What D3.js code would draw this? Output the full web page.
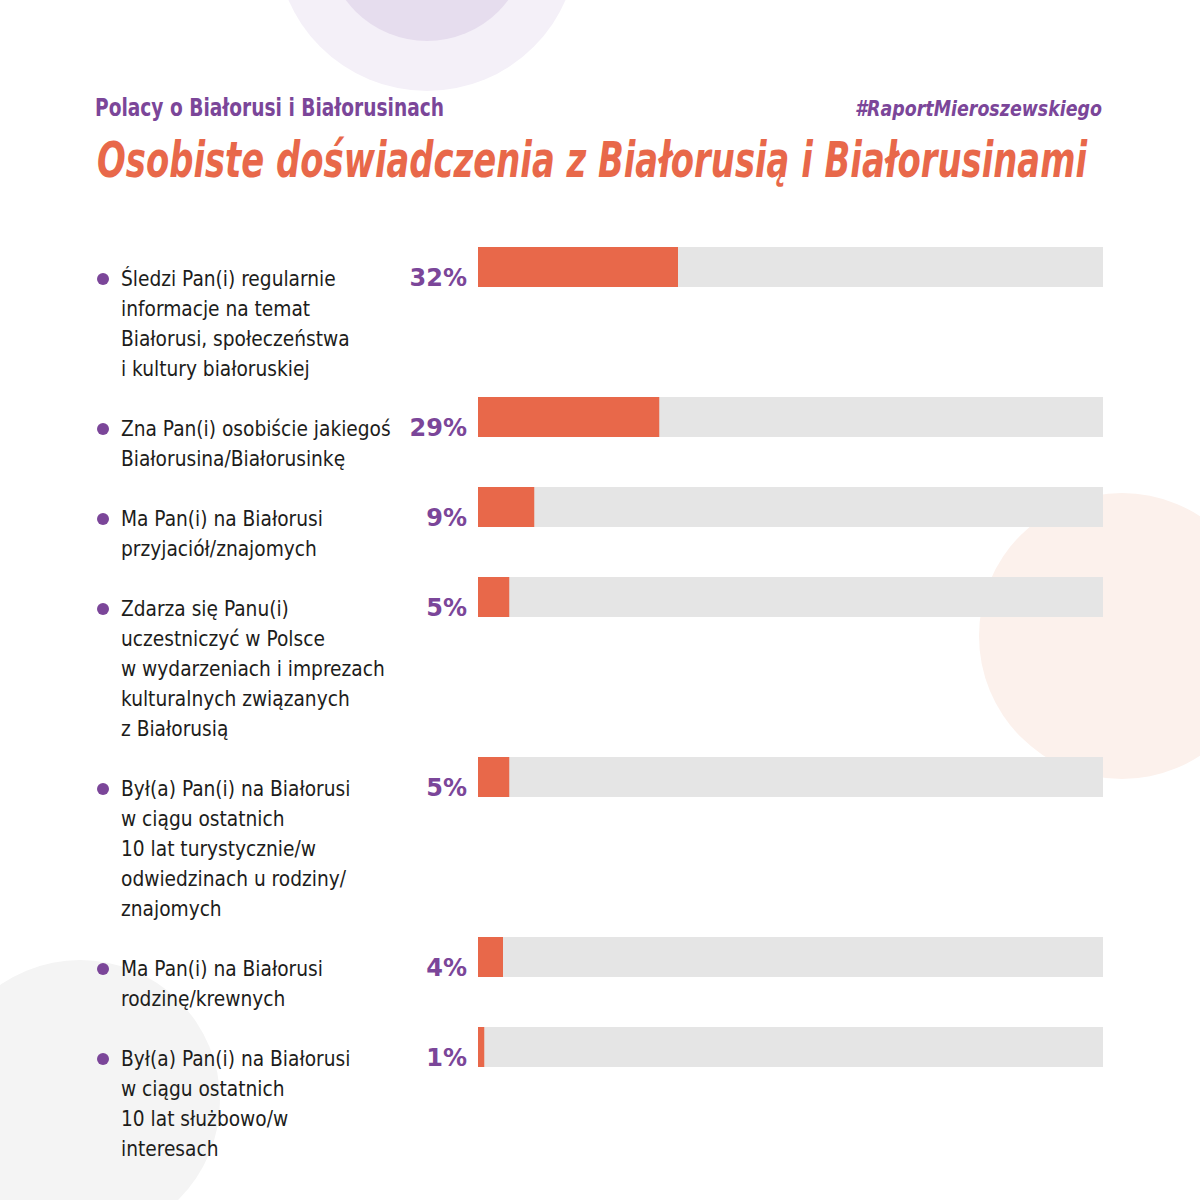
<!DOCTYPE html>
<html lang="pl">
<head>
<meta charset="UTF-8">
<title>Osobiste doświadczenia z Białorusią i Białorusinami</title>
<script src="https://d3js.org/d3.v7.min.js"></script>
<style>
  body { margin: 0; background: #fff; }
  svg { display: block; }
</style>
</head>
<body>
<svg id="chart"></svg>
<script>
// data
const categories = [
  ["Śledzi Pan(i) regularnie", "informacje na temat", "Białorusi, społeczeństwa", "i kultury białoruskiej"],
  ["Zna Pan(i) osobiście jakiegoś", "Białorusina/Białorusinkę"],
  ["Ma Pan(i) na Białorusi", "przyjaciół/znajomych"],
  ["Zdarza się Panu(i)", "uczestniczyć w Polsce", "w wydarzeniach i imprezach", "kulturalnych związanych", "z Białorusią"],
  ["Był(a) Pan(i) na Białorusi", "w ciągu ostatnich", "10 lat turystycznie/w", "odwiedzinach u rodziny/", "znajomych"],
  ["Ma Pan(i) na Białorusi", "rodzinę/krewnych"],
  ["Był(a) Pan(i) na Białorusi", "w ciągu ostatnich", "10 lat służbowo/w", "interesach"]
];
const values = [32, 29, 9, 5, 5, 4, 1];
const subtitle = "Polacy o Białorusi i Białorusinach";
const hashtag = "#RaportMieroszewskiego";
const title = "Osobiste doświadczenia z Białorusią i Białorusinami";

const W = 1200, H = 1200;
const orange = "#e8684a", purple = "#7b4699", track = "#e5e5e5", ink = "#1d1d1b";
const narrow = "'Liberation Sans Narrow', 'DejaVu Sans Condensed', 'Roboto', sans-serif";

const svg = d3.select("#chart").attr("width", W).attr("height", H)
  .attr("viewBox", [0, 0, W, H]);

// decorative circles
const deco = svg.append("g");
deco.append("circle").attr("cx", 427).attr("cy", -60).attr("r", 151).attr("fill", "#f4f0f8");
deco.append("circle").attr("cx", 427).attr("cy", -60).attr("r", 101).attr("fill", "#e6ddee");
deco.append("circle").attr("cx", 1122).attr("cy", 636).attr("r", 143).attr("fill", "#fcf1ec");
deco.append("circle").attr("cx", 80).attr("cy", 1100).attr("r", 140).attr("fill", "#f4f4f4");

// headings
svg.append("text").attr("x", 95).attr("y", 116)
  .attr("font-family", narrow).attr("font-weight", 700).attr("font-size", 25)
  .attr("fill", purple).attr("textLength", 349).attr("lengthAdjust", "spacingAndGlyphs")
  .text(subtitle);
svg.append("text").attr("x", 855).attr("y", 116)
  .attr("font-family", narrow).attr("font-style", "italic").attr("font-weight", 700)
  .attr("font-size", 22)
  .attr("fill", purple).attr("textLength", 247).attr("lengthAdjust", "spacingAndGlyphs")
  .text(hashtag);
svg.append("text").attr("x", 97).attr("y", 177)
  .attr("font-family", narrow).attr("font-weight", 700).attr("font-style", "italic")
  .attr("font-size", 50).attr("fill", orange)
  .attr("textLength", 990).attr("lengthAdjust", "spacingAndGlyphs")
  .text(title);

// vertical layout: each row takes its label lines plus one gap line
const lineH = 30;
const units = categories.map(c => c.length + 1);
const starts = d3.cumsum([0, ...units]);
const y = d3.scaleLinear().domain([0, d3.sum(units)]).range([247, 247 + d3.sum(units) * lineH]);
const x = d3.scaleLinear().domain([0, 100]).range([478, 1103]);
const barH = 40;

const rows = svg.append("g").selectAll("g")
  .data(values.map((v, i) => ({ v, lines: categories[i], pos: starts[i] })))
  .join("g")
  .attr("transform", d => `translate(0,${y(d.pos)})`);

rows.append("rect")
  .attr("x", x(0)).attr("y", 0)
  .attr("width", x(100) - x(0)).attr("height", barH)
  .attr("fill", track);

rows.append("rect")
  .attr("x", x(0)).attr("y", 0)
  .attr("width", d => x(d.v) - x(0)).attr("height", barH)
  .attr("fill", orange);

rows.append("text")
  .attr("x", x(0) - 11).attr("y", 39)
  .attr("text-anchor", "end")
  .attr("font-family", "'DejaVu Sans', sans-serif").attr("font-weight", 700)
  .attr("font-size", 24).attr("fill", purple)
  .text(d => d.v + "%");

rows.append("circle")
  .attr("cx", 103).attr("cy", 32).attr("r", 6).attr("fill", purple);

// labels: the fallback condensed font runs a bit wide, squeeze it to the original width
rows.append("text")
  .attr("font-family", narrow).attr("font-size", 22).attr("fill", ink)
  .selectAll("tspan")
  .data(d => d.lines)
  .join("tspan")
  .attr("x", 121)
  .attr("y", (d, i) => 39 + i * lineH)
  .text(d => d)
  .each(function () {
    const len = this.getComputedTextLength();
    d3.select(this).attr("textLength", len * 0.94).attr("lengthAdjust", "spacingAndGlyphs");
  });
</script>
</body>
</html>
